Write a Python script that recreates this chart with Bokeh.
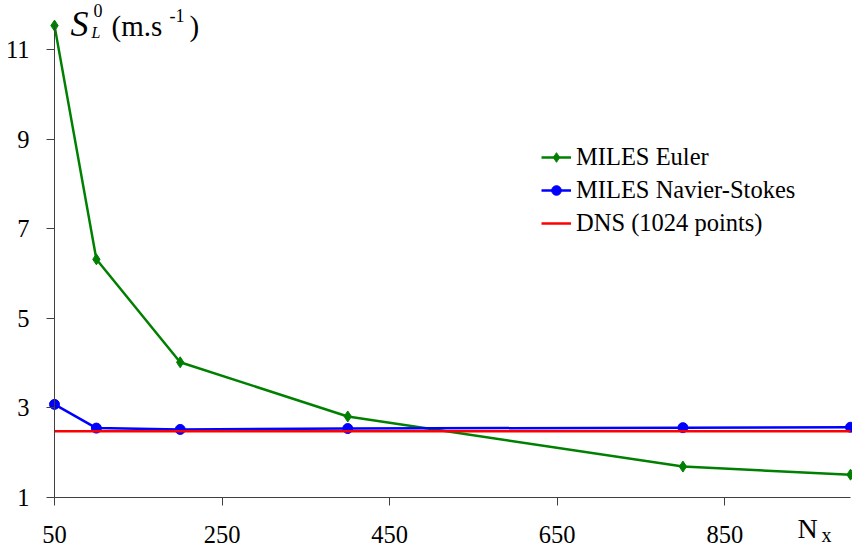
from bokeh.plotting import figure
from bokeh.models import Range1d, FixedTicker, Legend, LegendItem, Label, LinearAxis
from bokeh.embed import file_html
from bokeh.resources import INLINE

# Data
nx = [50, 100, 200, 400, 800, 1000]
euler = [11.54, 6.32, 4.02, 2.81, 1.69, 1.51]
navier_stokes = [3.08, 2.55, 2.52, 2.54, 2.56, 2.57]
dns_x = [50, 1000]
dns_y = [2.48, 2.48]
x_ticks = [50, 250, 450, 650, 850]
y_ticks = [1, 3, 5, 7, 9, 11]

FONT = "Liberation Serif"

# frame spans whole canvas; axes are fixed inside it
X0, X1 = 50, 1000
Y0, Y1 = 1, 11.565
W, H = 852, 547
L_PX, R_PX, T_PX, B_PX = 54, 850, 24, 497
xs = L_PX / ((R_PX - L_PX) / (X1 - X0))
xe = (W - R_PX) / ((R_PX - L_PX) / (X1 - X0))
ys = (H - B_PX) / ((B_PX - T_PX) / (Y1 - Y0))
ye = T_PX / ((B_PX - T_PX) / (Y1 - Y0))

p = figure(width=W, height=H, output_backend="svg", toolbar_location=None,
           x_range=Range1d(X0 - xs, X1 + xe), y_range=Range1d(Y0 - ys, Y1 + ye),
           x_axis_location=None, y_axis_location=None,
           min_border=0)
p.outline_line_color = None
p.xgrid.grid_line_color = None
p.ygrid.grid_line_color = None
p.background_fill_color = "white"
p.border_fill_color = "white"

xaxis = LinearAxis(fixed_location=Y0, bounds=(X0, X1), ticker=FixedTicker(ticks=x_ticks))
yaxis = LinearAxis(fixed_location=X0, bounds=(Y0, Y1), ticker=FixedTicker(ticks=y_ticks))
for ax in (xaxis, yaxis):
    ax.axis_line_color = "#404040"
    ax.axis_line_width = 1
    ax.major_tick_line_color = "#404040"
    ax.major_tick_out = 8
    ax.major_tick_in = 0
    ax.minor_tick_line_color = None
    ax.major_label_text_font = FONT
    ax.major_label_text_font_size = "24.5px"
    ax.major_label_text_color = "black"
xaxis.major_label_standoff = 20
yaxis.major_label_standoff = 17
p.add_layout(xaxis, "below")
p.add_layout(yaxis, "left")

eu_line = p.line(nx, euler, line_color="#008000", line_width=2.5)
eu_pts = p.scatter(nx, euler, marker="diamond", size=11, fill_color="#008000", line_color="#008000")
ns_line = p.line(nx, navier_stokes, line_color="#0000FF", line_width=2.5)
ns_pts = p.scatter(nx, navier_stokes, marker="circle", size=10, fill_color="#0000FF", line_color="#0000FF")
dns_line = p.line(dns_x, dns_y, line_color="#FF0000", line_width=2.5)

legend = Legend(items=[
    LegendItem(label="MILES Euler", renderers=[eu_line, eu_pts]),
    LegendItem(label="MILES Navier-Stokes", renderers=[ns_line, ns_pts]),
    LegendItem(label="DNS (1024 points)", renderers=[dns_line]),
], location=(541, 310))
legend.label_text_font = FONT
legend.label_text_font_size = "24.5px"
legend.label_text_color = "black"
legend.glyph_width = 30
legend.glyph_height = 24
legend.label_height = 24
legend.label_standoff = 5
legend.spacing = 5
legend.padding = 0
legend.margin = 0
legend.border_line_color = None
legend.background_fill_alpha = 0
p.add_layout(legend, "center")

# Axis titles built from text pieces (super/subscripts); px, baseline in page pixels from top-left
def lab(px, baseline, text, size, style="normal"):
    p.add_layout(Label(x=px, y=H - baseline + 0.38 * size, x_units="screen", y_units="screen",
                       text=text, text_font=FONT, text_font_size=f"{size}px",
                       text_font_style=style, text_color="black",
                       text_align="left", text_baseline="alphabetic"))

lab(70, 37, "S", 36, "italic")
lab(93, 17, "0", 18)
lab(91, 38, "L", 16, "italic")
lab(111, 37, "(m.s", 29)
lab(169, 22, "-1", 18)
lab(189, 37, ")", 29)
lab(797, 539, "N", 28)
lab(821, 542, "x", 20)

open("out.html", "w").write(file_html(p, INLINE))
